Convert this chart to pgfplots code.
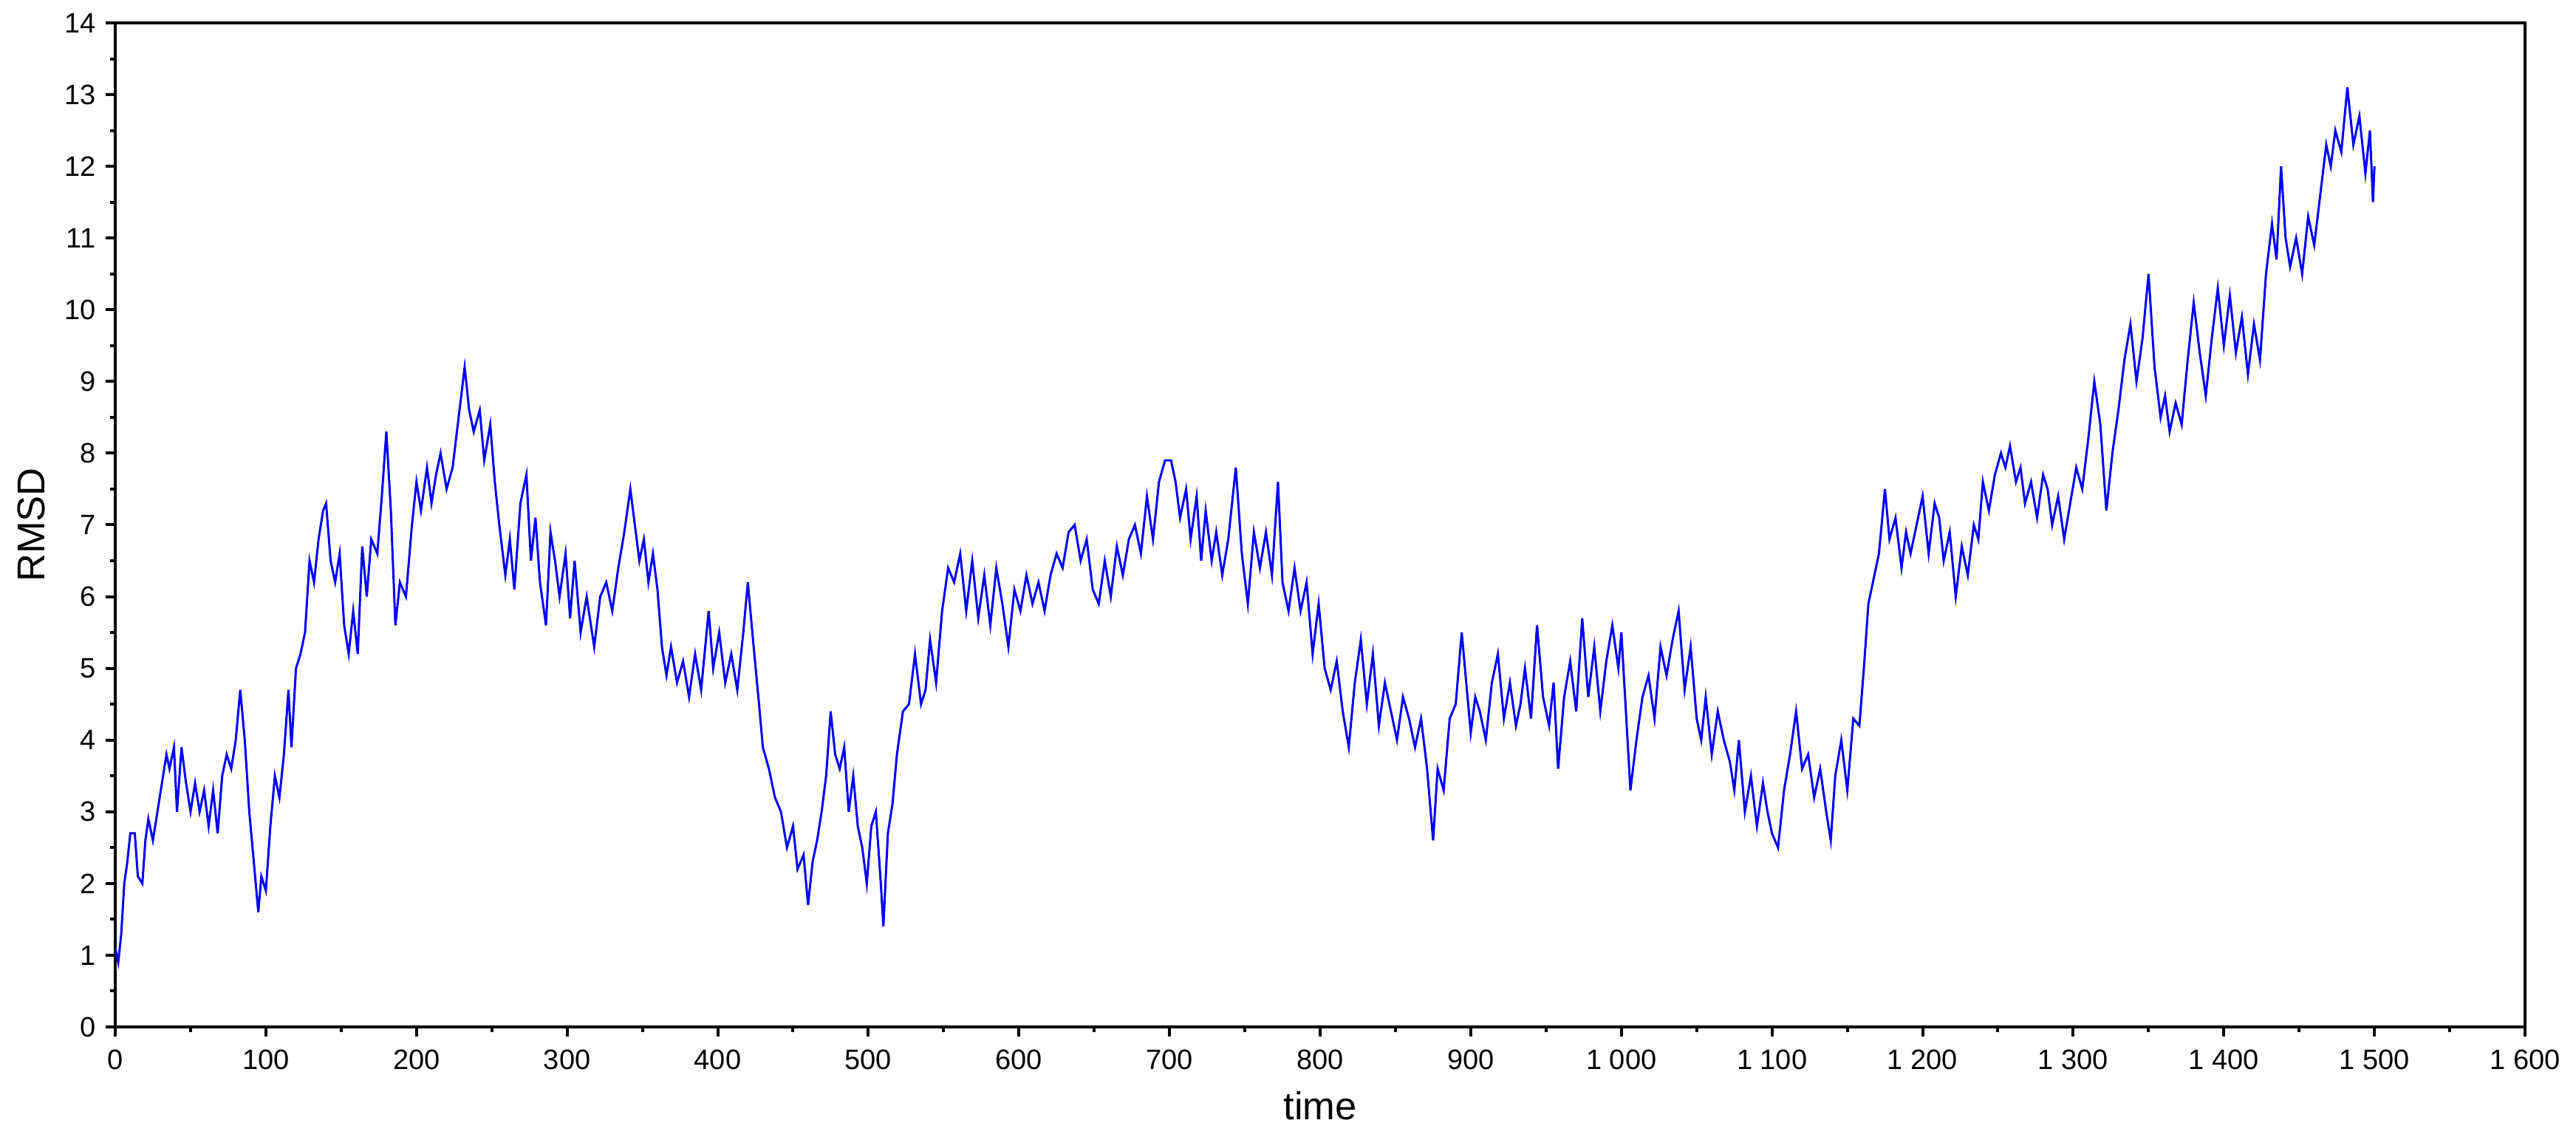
\documentclass[border=0pt]{standalone}
\usepackage{pgfplots}
\pgfplotsset{compat=1.18}
\usepackage{pgfplotstable}
\usepackage{fontspec}
\setmainfont{Liberation Sans}
\pgfplotstableread{
t v
0 1.1
2 0.9
4 1.3
6 2.0
8 2.3
10 2.7
13 2.7
15 2.1
18 2.0
20 2.6
22 2.9
25 2.6
28 3.0
31 3.4
34 3.8
36 3.6
39 3.9
41 3.0
44 3.9
47 3.4
50 3.0
53 3.4
56 3.0
59 3.3
62 2.8
65 3.3
68 2.7
71 3.5
74 3.8
77 3.6
80 4.0
83 4.7
86 4.0
89 3.0
92 2.3
95 1.6
97 2.1
100 1.9
103 2.8
106 3.5
109 3.2
112 3.8
115 4.7
117 3.9
120 5.0
123 5.2
126 5.5
129 6.5
132 6.2
135 6.8
138 7.2
140 7.3
143 6.5
146 6.2
149 6.6
152 5.6
155 5.2
158 5.8
161 5.2
164 6.7
167 6.0
170 6.8
174 6.6
177 7.4
180 8.3
183 7.2
186 5.6
189 6.2
193 6.0
197 7.0
200 7.6
203 7.2
207 7.8
210 7.3
213 7.7
216 8.0
220 7.5
224 7.8
228 8.5
232 9.2
235 8.6
238 8.3
242 8.6
245 7.9
249 8.4
252 7.6
255 7.0
259 6.3
262 6.8
265 6.1
269 7.3
273 7.7
276 6.5
279 7.1
282 6.2
286 5.6
289 6.9
292 6.5
295 6.0
299 6.6
302 5.7
305 6.5
309 5.5
313 6.0
318 5.3
322 6.0
326 6.2
330 5.8
334 6.4
338 6.9
342 7.5
345 7.0
348 6.5
351 6.8
354 6.2
357 6.6
360 6.1
363 5.3
366 4.9
369 5.3
373 4.8
377 5.1
381 4.6
385 5.2
389 4.7
394 5.8
397 5.0
401 5.5
405 4.8
409 5.2
413 4.7
417 5.5
420 6.2
423 5.5
427 4.6
430 3.9
434 3.6
438 3.2
442 3.0
446 2.5
450 2.8
453 2.2
457 2.4
460 1.7
463 2.3
466 2.6
469 3.0
472 3.5
475 4.4
478 3.8
481 3.6
484 3.9
487 3.0
490 3.5
493 2.8
496 2.5
499 2.0
502 2.8
505 3.0
508 2.1
510 1.4
513 2.7
516 3.1
519 3.8
523 4.4
527 4.5
531 5.2
535 4.5
538 4.7
541 5.4
545 4.8
549 5.8
553 6.4
557 6.2
561 6.6
565 5.8
569 6.5
573 5.7
577 6.3
581 5.6
585 6.4
589 5.9
593 5.3
597 6.1
601 5.8
605 6.3
609 5.9
613 6.2
617 5.8
621 6.3
625 6.6
629 6.4
633 6.9
637 7.0
641 6.5
645 6.8
649 6.1
653 5.9
657 6.5
661 6.0
665 6.7
669 6.3
673 6.8
677 7.0
681 6.6
685 7.4
689 6.8
693 7.6
697 7.9
701 7.9
704 7.6
707 7.1
711 7.5
714 6.8
718 7.4
721 6.5
724 7.2
728 6.5
731 6.9
735 6.3
739 6.8
744 7.8
748 6.6
752 5.9
756 6.9
760 6.4
764 6.9
768 6.3
772 7.6
775 6.2
779 5.8
783 6.4
787 5.8
791 6.2
795 5.2
799 5.9
803 5.0
807 4.7
811 5.1
815 4.4
819 3.9
823 4.8
827 5.4
831 4.5
835 5.2
839 4.2
843 4.8
847 4.4
851 4.0
855 4.6
859 4.3
863 3.9
867 4.3
871 3.6
875 2.6
878 3.6
882 3.3
886 4.3
890 4.5
894 5.5
897 4.8
900 4.1
903 4.6
906 4.4
910 4.0
914 4.8
918 5.2
922 4.3
926 4.8
930 4.2
933 4.5
936 5.0
940 4.3
944 5.6
948 4.6
952 4.2
955 4.8
958 3.6
962 4.6
966 5.1
970 4.4
974 5.7
978 4.6
982 5.3
986 4.4
990 5.1
994 5.6
998 5.0
1000 5.5
1003 4.4
1006 3.3
1010 4.0
1014 4.6
1018 4.9
1022 4.3
1026 5.3
1030 4.9
1034 5.4
1038 5.8
1042 4.7
1046 5.3
1050 4.3
1053 4.0
1056 4.6
1060 3.8
1064 4.4
1068 4.0
1072 3.7
1075 3.3
1078 4.0
1082 3.0
1086 3.5
1090 2.8
1094 3.4
1097 3.0
1100 2.7
1104 2.5
1108 3.3
1112 3.8
1116 4.4
1120 3.6
1124 3.8
1128 3.2
1132 3.6
1136 3.0
1139 2.6
1142 3.5
1146 4.0
1150 3.3
1154 4.3
1158 4.2
1161 5.0
1164 5.9
1167 6.2
1171 6.6
1175 7.5
1178 6.8
1182 7.1
1186 6.4
1189 6.9
1192 6.6
1196 7.0
1200 7.4
1204 6.6
1208 7.3
1211 7.1
1214 6.5
1218 6.9
1222 6.0
1226 6.7
1230 6.3
1234 7.0
1237 6.8
1240 7.6
1244 7.2
1248 7.7
1252 8.0
1255 7.8
1258 8.1
1262 7.6
1265 7.8
1268 7.3
1272 7.6
1276 7.1
1280 7.7
1283 7.5
1286 7.0
1290 7.4
1294 6.8
1298 7.3
1302 7.8
1306 7.5
1310 8.2
1314 9.0
1318 8.4
1322 7.2
1326 8.0
1330 8.6
1334 9.3
1338 9.8
1342 9.0
1346 9.6
1350 10.5
1354 9.2
1358 8.5
1361 8.8
1364 8.3
1368 8.7
1372 8.4
1376 9.3
1380 10.1
1384 9.4
1388 8.8
1392 9.6
1396 10.3
1400 9.5
1404 10.2
1408 9.4
1412 9.9
1416 9.1
1420 9.8
1424 9.3
1428 10.5
1432 11.2
1435 10.7
1438 12.0
1441 11.0
1444 10.6
1448 11.0
1452 10.5
1456 11.3
1460 10.9
1464 11.6
1468 12.3
1471 12.0
1474 12.5
1478 12.2
1482 13.1
1486 12.3
1490 12.7
1494 11.9
1497 12.5
1499 11.5
1500 12.0
}\rmsd
\begin{document}
\begin{tikzpicture}
\begin{axis}[
  scale only axis,
  width=652.4pt, height=271.8pt,
  xmin=0, xmax=1600, ymin=0, ymax=14,
  xtick={0,100,...,1600}, ytick={0,1,...,14},
  minor x tick num=1, minor y tick num=1,
  tick align=outside, xtick pos=bottom, ytick pos=left,
  major tick length=2.6pt, minor tick length=1.3pt,
  axis line style={line width=0.8pt},
  every tick/.style={black, line width=0.8pt},
  every minor tick/.style={black, line width=0.8pt},
  tick label style={font=\fontsize{7.6}{9}\selectfont},
  yticklabel style={xshift=0.8pt},
  /pgf/number format/.cd, 1000 sep={\ }, assume math mode=true,
  /pgfplots/.cd,
  xlabel={time}, ylabel={RMSD},
  label style={font=\fontsize{10.5}{12}\selectfont},
  xlabel style={at={(axis description cs:0.5,0)}, anchor=center, yshift=-21.4pt},
  ylabel style={at={(axis description cs:0,0.5)}, anchor=center, rotate=0, yshift=22.8pt},
]
\addplot[color={rgb,255:red,0;green,0;blue,255}, line width=0.6pt, line join=miter] table[x=t, y=v] {\rmsd};
\coordinate (bl) at (rel axis cs:0,0);
\coordinate (tr) at (rel axis cs:1,1);
\end{axis}
\pgfresetboundingbox
\path ([xshift=-31.2pt,yshift=-29.6pt]bl) rectangle ([xshift=13.8pt,yshift=6.2pt]tr);
\end{tikzpicture}
\end{document}
